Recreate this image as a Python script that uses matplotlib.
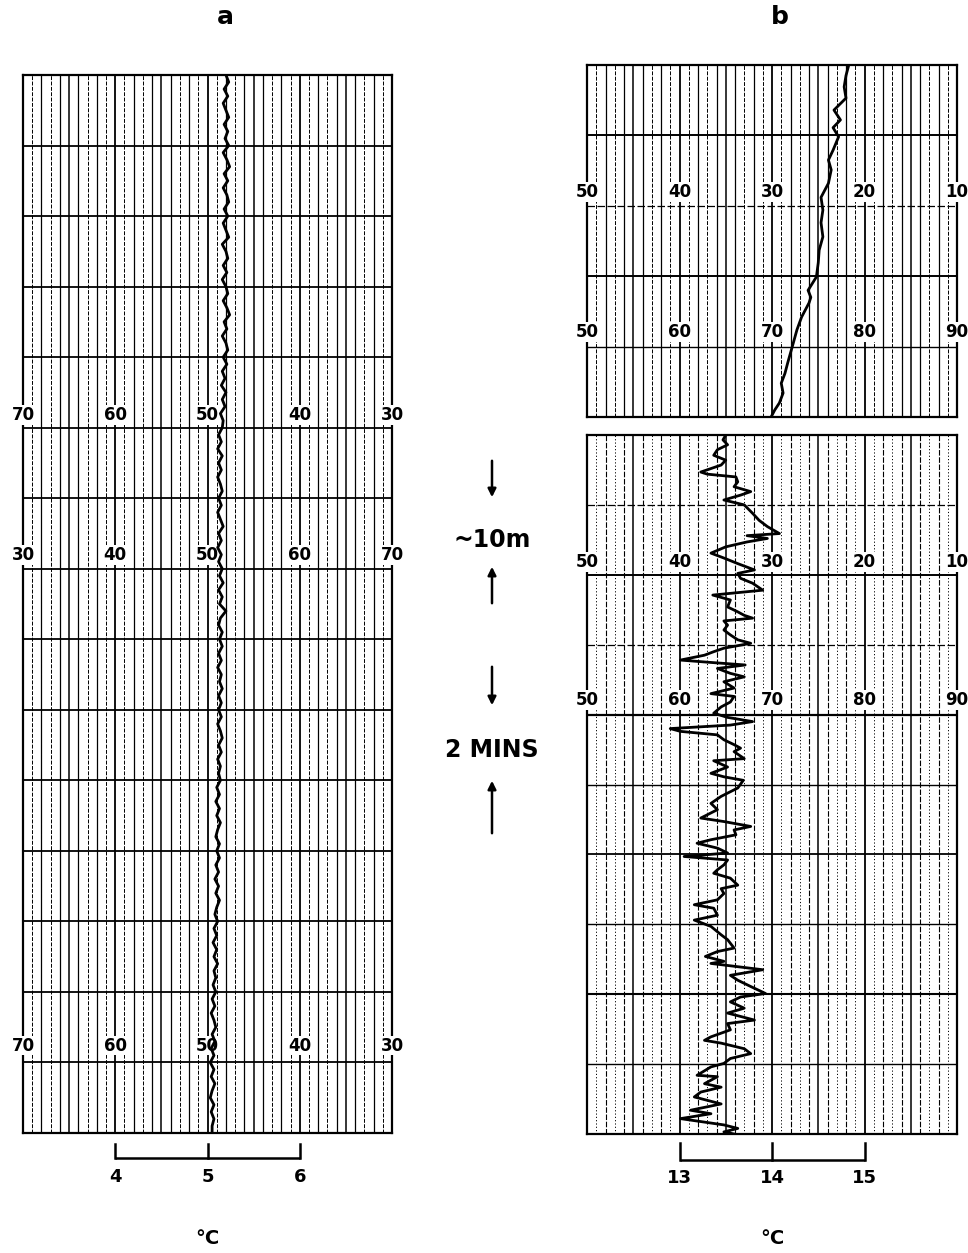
import matplotlib
matplotlib.use('Agg')
import matplotlib.pyplot as plt
import numpy as np

# ---- data ----
# panel a: temperature (degC) sampled every 0.1 chart division, 15 divisions
a_temp = [
  5.20, 5.23, 5.18, 5.22, 5.17, 5.20, 5.23, 5.18, 5.22, 5.19,
  5.23, 5.17, 5.21, 5.24, 5.18, 5.22, 5.17, 5.21, 5.23, 5.18,
  5.22, 5.17, 5.20, 5.23, 5.16, 5.20, 5.22, 5.17, 5.21, 5.16,
  5.20, 5.22, 5.17, 5.21, 5.24, 5.18, 5.21, 5.16, 5.20, 5.22,
  5.17, 5.21, 5.16, 5.19, 5.15, 5.20, 5.16, 5.19, 5.14, 5.17,
  5.16, 5.12, 5.15, 5.11, 5.16, 5.12, 5.15, 5.11, 5.14, 5.16,
  5.12, 5.15, 5.11, 5.14, 5.17, 5.12, 5.15, 5.11, 5.15, 5.12,
  5.16, 5.13, 5.17, 5.12, 5.16, 5.13, 5.20, 5.14, 5.12, 5.16,
  5.13, 5.16, 5.12, 5.15, 5.11, 5.15, 5.13, 5.16, 5.12, 5.15,
  5.12, 5.15, 5.11, 5.14, 5.16, 5.12, 5.15, 5.11, 5.14, 5.12,
  5.14, 5.10, 5.13, 5.09, 5.13, 5.10, 5.14, 5.11, 5.09, 5.13,
  5.10, 5.13, 5.09, 5.12, 5.08, 5.12, 5.09, 5.13, 5.10, 5.08,
  5.11, 5.07, 5.10, 5.06, 5.10, 5.07, 5.11, 5.07, 5.09, 5.06,
  5.09, 5.05, 5.08, 5.04, 5.07, 5.09, 5.05, 5.08, 5.04, 5.07,
  5.03, 5.07, 5.04, 5.08, 5.05, 5.03, 5.07, 5.04, 5.07, 5.05, 5.05,
]

# panel b, upper strip (5 divisions)
b_top_depth = [0.00, 0.15, 0.31, 0.47, 0.64, 0.78, 0.89, 1.02, 1.21, 1.35,
               1.49, 1.68, 1.88, 2.06, 2.24, 2.44, 2.63, 2.81, 3.01, 3.20,
               3.30, 3.38, 3.48, 3.58, 3.76, 3.95, 4.09, 4.23, 4.38, 4.52,
               4.66, 4.80, 4.90, 5.00]
b_top_temp = [14.83, 14.80, 14.78, 14.80, 14.67, 14.74, 14.66, 14.72, 14.66, 14.61,
              14.64, 14.61, 14.53, 14.55, 14.53, 14.55, 14.51, 14.50, 14.48, 14.39,
              14.42, 14.40, 14.36, 14.32, 14.27, 14.23, 14.20, 14.17, 14.14, 14.10,
              14.12, 14.08, 14.03, 13.99]

# panel b, lower strip (10 divisions)
b_low_depth = [
  0.00, 0.07, 0.14, 0.21, 0.29, 0.36, 0.43, 0.53, 0.56, 0.60,
  0.67, 0.74, 0.81, 0.86, 0.93, 1.00, 1.12, 1.22, 1.31, 1.41,
  1.44, 1.48, 1.53, 1.60, 1.69, 1.76, 1.84, 1.93, 1.98, 2.05,
  2.12, 2.22, 2.29, 2.36, 2.46, 2.53, 2.58, 2.62, 2.66, 2.72,
  2.79, 2.86, 2.93, 2.98, 3.05, 3.10, 3.15, 3.22, 3.25, 3.29,
  3.34, 3.41, 3.46, 3.53, 3.62, 3.70, 3.74, 3.82, 3.89, 3.98,
  4.04, 4.10, 4.15, 4.20, 4.24, 4.29, 4.36, 4.43, 4.48, 4.53,
  4.63, 4.66, 4.75, 4.84, 4.89, 4.94, 5.05, 5.17, 5.27, 5.36,
  5.48, 5.53, 5.60, 5.65, 5.72, 5.79, 5.84, 5.91, 5.98, 6.03,
  6.08, 6.15, 6.22, 6.27, 6.34, 6.44, 6.49, 6.56, 6.65, 6.72,
  6.77, 6.87, 6.94, 7.03, 7.15, 7.22, 7.34, 7.39, 7.46, 7.53,
  7.56, 7.60, 7.65, 7.73, 7.80, 7.89, 7.99, 8.04, 8.11, 8.20,
  8.27, 8.37, 8.42, 8.51, 8.61, 8.66, 8.70, 8.78, 8.85, 8.92,
  8.99, 9.04, 9.16, 9.18, 9.28, 9.33, 9.40, 9.47, 9.57, 9.66,
  9.71, 9.78, 9.83, 9.87, 9.92, 9.97, 10.00,
]
b_low_temp = [
  13.50, 13.47, 13.52, 13.41, 13.37, 13.50, 13.45, 13.23, 13.30, 13.61,
  13.63, 13.59, 13.77, 13.66, 13.48, 13.70, 13.79, 13.86, 13.95, 14.08,
  13.73, 13.95, 13.73, 13.50, 13.34, 13.48, 13.63, 13.81, 13.63, 13.66,
  13.79, 13.90, 13.36, 13.55, 13.52, 13.63, 13.70, 13.79, 13.48, 13.52,
  13.48, 13.55, 13.63, 13.77, 13.48, 13.37, 13.27, 13.01, 13.30, 13.71,
  13.41, 13.55, 13.70, 13.48, 13.59, 13.34, 13.59, 13.55, 13.45, 13.37,
  13.52, 13.79, 13.55, 12.90, 13.01, 13.41, 13.48, 13.59, 13.66, 13.59,
  13.70, 13.37, 13.52, 13.34, 13.48, 13.69, 13.63, 13.45, 13.34, 13.41,
  13.23, 13.48, 13.77, 13.59, 13.61, 13.34, 13.19, 13.41, 13.52, 13.05,
  13.52, 13.48, 13.41, 13.37, 13.55, 13.63, 13.45, 13.48, 13.41, 13.16,
  13.37, 13.41, 13.16, 13.34, 13.45, 13.52, 13.59, 13.41, 13.28, 13.48,
  13.34, 13.59, 13.90, 13.55, 13.63, 13.77, 13.93, 13.66, 13.55, 13.70,
  13.52, 13.81, 13.52, 13.55, 13.34, 13.27, 13.45, 13.70, 13.77, 13.55,
  13.48, 13.34, 13.19, 13.41, 13.27, 13.45, 13.23, 13.16, 13.45, 13.12,
  13.34, 13.01, 13.27, 13.48, 13.63, 13.48, 13.59,
]

# chart paper labels (printed scale divisions)
a_labels_desc = ['70', '60', '50', '40', '30']
a_labels_asc = ['30', '40', '50', '60', '70']
b_labels_desc = ['50', '40', '30', '20', '10']
b_labels_asc = ['50', '60', '70', '80', '90']

a_scale = [4, 5, 6]
b_scale = [13, 14, 15]

W, H = 968, 1253
fig = plt.figure(figsize=(W / 100, H / 100), dpi=100)
fig.patch.set_facecolor('white')

FW = 'bold'


def px_axes(x0, y0, x1, y1):
  return fig.add_axes([x0 / W, 1 - y1 / H, (x1 - x0) / W, (y1 - y0) / H])


def draw_paper(ax, t0, ndiv, hrules, light=False):
  # vertical rulings every 0.1 degC
  for k in range(41):
    x = t0 + k * 0.1
    if k % 10 == 0:
      lw, ls = 1.3, '-'
    elif k % 5 == 0:
      lw, ls = 1.1, '-'
    elif k % 2 == 0:
      lw, ls = (0.8, (0, (5, 1.5))) if light else (0.9, '-')
    else:
      lw, ls = (0.7, (0, (1.2, 2.2))) if light else (0.7, (0, (4, 1.5)))
    ax.axvline(x, color='k', lw=lw, ls=ls, zorder=1)
  # horizontal rulings, one per division
  for i in range(1, ndiv):
    lw, ls = hrules[i - 1]
    ax.axhline(i, color='k', lw=lw, ls=ls, zorder=1)
  ax.set_xlim(t0, t0 + 4)
  ax.set_ylim(ndiv, 0)
  ax.set_xticks([])
  ax.set_yticks([])
  for s in ax.spines.values():
    s.set_linewidth(1.6)


def row_labels(ax, t0, y, labels):
  for j, lab in enumerate(labels):
    ax.text(t0 + j, y, lab, ha='center', va='center', fontsize=12,
            fontweight=FW, clip_on=False, zorder=3,
            bbox=dict(fc='white', ec='none', pad=0.6))


def scale_bar(ax, ticks, y_bar, y_tick, y_lab, y_unit):
  ax.plot([ticks[0], ticks[-1]], [y_bar, y_bar], color='k', lw=1.8,
          clip_on=False, solid_capstyle='butt')
  for t in ticks:
    ax.plot([t, t], [y_bar, y_tick], color='k', lw=1.8, clip_on=False)
    ax.text(t, y_lab, str(t), ha='center', va='center', fontsize=13,
            fontweight=FW, clip_on=False)
  ax.text(ticks[1], y_unit, '°C', ha='center', va='center', fontsize=14,
          fontweight=FW, clip_on=False)


# ---- panel a ----
ax_a = px_axes(23, 75, 392, 1133)
draw_paper(ax_a, 3.0, 15, [(1.3, '-')] * 14)
a_depth = np.arange(len(a_temp)) * 0.1
ax_a.plot(a_temp, a_depth, color='k', lw=2.0, zorder=4)
row_labels(ax_a, 3.0, 4.82, a_labels_desc)
row_labels(ax_a, 3.0, 6.81, a_labels_asc)
row_labels(ax_a, 3.0, 13.76, a_labels_desc)
scale_bar(ax_a, a_scale, 15.35, 15.15, 15.63, 16.5)

# ---- panel b, upper strip ----
ax_bt = px_axes(587, 65, 957, 417)
draw_paper(ax_bt, 12.0, 5,
           [(1.4, '-'), (0.9, (0, (6, 2))), (1.4, '-'), (1.0, '-')])
ax_bt.plot(b_top_temp, b_top_depth, color='k', lw=2.0, zorder=4)
row_labels(ax_bt, 12.0, 1.80, b_labels_desc)
row_labels(ax_bt, 12.0, 3.79, b_labels_asc)

# ---- panel b, lower strip ----
ax_bl = px_axes(587, 435, 957, 1134)
draw_paper(ax_bl, 12.0, 10,
           [(0.9, (0, (6, 2))), (1.4, '-'), (0.9, (0, (6, 2))), (1.6, '-'),
            (1.0, '-'), (1.3, '-'), (1.0, '-'), (1.5, '-'), (1.0, '-')],
           light=True)
ax_bl.plot(b_low_temp, b_low_depth, color='k', lw=2.0, zorder=4)
row_labels(ax_bl, 12.0, 1.82, b_labels_desc)
row_labels(ax_bl, 12.0, 3.79, b_labels_asc)
scale_bar(ax_bl, b_scale, 10.37, 10.13, 10.63, 11.49)

# ---- annotations between the panels ----
ax0 = fig.add_axes([0, 0, 1, 1], zorder=-1)
ax0.set_xlim(0, W)
ax0.set_ylim(H, 0)
ax0.axis('off')
ax0.text(225, 17, 'a', ha='center', va='center', fontsize=18, fontweight=FW)
ax0.text(780, 17, 'b', ha='center', va='center', fontsize=18, fontweight=FW)

arrow = dict(arrowstyle='-|>', color='k', lw=1.8, mutation_scale=12)
ax0.annotate('', xy=(492, 500), xytext=(492, 458), arrowprops=arrow)
ax0.text(492, 540, '~10m', ha='center', va='center', fontsize=17, fontweight=FW)
ax0.annotate('', xy=(492, 564), xytext=(492, 606), arrowprops=arrow)
ax0.annotate('', xy=(492, 708), xytext=(492, 664), arrowprops=arrow)
ax0.text(492, 750, '2 MINS', ha='center', va='center', fontsize=17, fontweight=FW)
ax0.annotate('', xy=(492, 778), xytext=(492, 836), arrowprops=arrow)

fig.savefig('out.png', dpi=100, facecolor='white')
